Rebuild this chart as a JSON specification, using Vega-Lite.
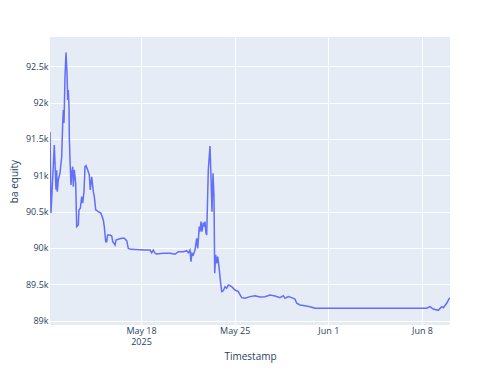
{
  "$schema": "https://vega.github.io/schema/vega-lite/v6.json",
  "width": 400,
  "height": 288,
  "autosize": {"type": "none"},
  "padding": {"left": 50, "top": 37, "right": 50, "bottom": 50},
  "background": "white",
  "view": {"fill": "#E5ECF6", "stroke": null},
  "config": {
    "font": "Open Sans",
    "axis": {
      "domain": false,
      "ticks": false,
      "gridColor": "white",
      "gridWidth": 1,
      "labelFont": "Open Sans",
      "labelFontSize": 9,
      "labelColor": "#2a3f5f",
      "titleFont": "Open Sans",
      "titleFontSize": 10,
      "titleFontWeight": "normal",
      "titleColor": "#2a3f5f"
    }
  },
  "data": {
    "values": [
      {"t": "2025-05-11T04:47:00", "v": 91599},
      {"t": "2025-05-11T06:35:00", "v": 90481},
      {"t": "2025-05-11T12:30:00", "v": 91416},
      {"t": "2025-05-11T15:33:00", "v": 90800},
      {"t": "2025-05-11T16:48:00", "v": 91070},
      {"t": "2025-05-11T17:53:00", "v": 90774},
      {"t": "2025-05-11T19:40:00", "v": 90935},
      {"t": "2025-05-11T22:43:00", "v": 91030},
      {"t": "2025-05-12T01:46:00", "v": 91255},
      {"t": "2025-05-12T03:34:00", "v": 91714},
      {"t": "2025-05-12T04:38:00", "v": 91897},
      {"t": "2025-05-12T05:54:00", "v": 91720},
      {"t": "2025-05-12T07:41:00", "v": 92355},
      {"t": "2025-05-12T09:29:00", "v": 92686},
      {"t": "2025-05-12T11:17:00", "v": 92406},
      {"t": "2025-05-12T12:32:00", "v": 92035},
      {"t": "2025-05-12T13:37:00", "v": 92172},
      {"t": "2025-05-12T14:52:00", "v": 91943},
      {"t": "2025-05-12T15:24:00", "v": 91530},
      {"t": "2025-05-12T16:40:00", "v": 91210},
      {"t": "2025-05-12T18:27:00", "v": 90866},
      {"t": "2025-05-12T19:43:00", "v": 91027},
      {"t": "2025-05-12T21:30:00", "v": 91118},
      {"t": "2025-05-12T22:35:00", "v": 90843},
      {"t": "2025-05-13T00:22:00", "v": 91073},
      {"t": "2025-05-13T02:53:00", "v": 90890},
      {"t": "2025-05-13T04:41:00", "v": 90293},
      {"t": "2025-05-13T07:33:00", "v": 90316},
      {"t": "2025-05-13T08:48:00", "v": 90523},
      {"t": "2025-05-13T11:08:00", "v": 90546},
      {"t": "2025-05-13T13:39:00", "v": 90706},
      {"t": "2025-05-13T15:26:00", "v": 90615},
      {"t": "2025-05-13T17:46:00", "v": 90774},
      {"t": "2025-05-13T19:34:00", "v": 91118},
      {"t": "2025-05-13T21:22:00", "v": 91132},
      {"t": "2025-05-14T00:25:00", "v": 91073},
      {"t": "2025-05-14T03:17:00", "v": 91004},
      {"t": "2025-05-14T05:04:00", "v": 90798},
      {"t": "2025-05-14T07:35:00", "v": 90980},
      {"t": "2025-05-14T10:27:00", "v": 90774},
      {"t": "2025-05-14T12:15:00", "v": 90706},
      {"t": "2025-05-14T14:46:00", "v": 90523},
      {"t": "2025-05-14T19:25:00", "v": 90499},
      {"t": "2025-05-15T00:16:00", "v": 90477},
      {"t": "2025-05-15T04:23:00", "v": 90385},
      {"t": "2025-05-15T06:11:00", "v": 90293},
      {"t": "2025-05-15T08:42:00", "v": 90087},
      {"t": "2025-05-15T10:29:00", "v": 90087},
      {"t": "2025-05-15T12:17:00", "v": 90179},
      {"t": "2025-05-15T16:25:00", "v": 90179},
      {"t": "2025-05-15T19:28:00", "v": 90165},
      {"t": "2025-05-15T21:16:00", "v": 90087},
      {"t": "2025-05-15T23:35:00", "v": 90064},
      {"t": "2025-05-16T01:23:00", "v": 90041},
      {"t": "2025-05-16T03:10:00", "v": 90110},
      {"t": "2025-05-16T07:18:00", "v": 90119},
      {"t": "2025-05-16T13:24:00", "v": 90133},
      {"t": "2025-05-16T18:04:00", "v": 90133},
      {"t": "2025-05-16T22:22:00", "v": 90101},
      {"t": "2025-05-17T01:14:00", "v": 89995},
      {"t": "2025-05-17T06:04:00", "v": 89981},
      {"t": "2025-05-18T07:11:00", "v": 89972},
      {"t": "2025-05-18T16:10:00", "v": 89972},
      {"t": "2025-05-18T19:13:00", "v": 89935},
      {"t": "2025-05-18T22:05:00", "v": 89972},
      {"t": "2025-05-19T01:07:00", "v": 89927},
      {"t": "2025-05-19T04:10:00", "v": 89917},
      {"t": "2025-05-19T16:01:00", "v": 89927},
      {"t": "2025-05-20T04:02:00", "v": 89927},
      {"t": "2025-05-20T13:00:00", "v": 89913},
      {"t": "2025-05-20T18:55:00", "v": 89949},
      {"t": "2025-05-21T03:53:00", "v": 89949},
      {"t": "2025-05-21T09:59:00", "v": 89963},
      {"t": "2025-05-21T12:51:00", "v": 89936},
      {"t": "2025-05-21T15:54:00", "v": 89972},
      {"t": "2025-05-21T17:42:00", "v": 89812},
      {"t": "2025-05-21T19:29:00", "v": 89927},
      {"t": "2025-05-21T21:49:00", "v": 89904},
      {"t": "2025-05-22T00:52:00", "v": 89972},
      {"t": "2025-05-22T03:55:00", "v": 90133},
      {"t": "2025-05-22T05:43:00", "v": 89995},
      {"t": "2025-05-22T08:35:00", "v": 90293},
      {"t": "2025-05-22T09:50:00", "v": 90224},
      {"t": "2025-05-22T11:38:00", "v": 90362},
      {"t": "2025-05-22T13:26:00", "v": 90224},
      {"t": "2025-05-22T15:46:00", "v": 90348},
      {"t": "2025-05-22T17:33:00", "v": 90293},
      {"t": "2025-05-22T18:49:00", "v": 90362},
      {"t": "2025-05-22T20:36:00", "v": 90202},
      {"t": "2025-05-22T21:52:00", "v": 90179},
      {"t": "2025-05-23T00:44:00", "v": 91073},
      {"t": "2025-05-23T03:47:00", "v": 91403},
      {"t": "2025-05-23T05:34:00", "v": 90980},
      {"t": "2025-05-23T07:22:00", "v": 90499},
      {"t": "2025-05-23T09:10:00", "v": 91027},
      {"t": "2025-05-23T10:57:00", "v": 90706},
      {"t": "2025-05-23T12:13:00", "v": 89652},
      {"t": "2025-05-23T14:00:00", "v": 89904},
      {"t": "2025-05-23T15:48:00", "v": 89789},
      {"t": "2025-05-23T17:35:00", "v": 89881},
      {"t": "2025-05-23T19:55:00", "v": 89743},
      {"t": "2025-05-23T22:58:00", "v": 89514},
      {"t": "2025-05-24T00:46:00", "v": 89400},
      {"t": "2025-05-24T03:38:00", "v": 89413},
      {"t": "2025-05-24T06:41:00", "v": 89468},
      {"t": "2025-05-24T09:44:00", "v": 89446},
      {"t": "2025-05-24T12:37:00", "v": 89491},
      {"t": "2025-05-24T18:42:00", "v": 89468},
      {"t": "2025-05-25T00:37:00", "v": 89422},
      {"t": "2025-05-25T06:32:00", "v": 89399},
      {"t": "2025-05-25T12:38:00", "v": 89317},
      {"t": "2025-05-25T18:34:00", "v": 89308},
      {"t": "2025-05-26T03:32:00", "v": 89331},
      {"t": "2025-05-26T12:29:00", "v": 89344},
      {"t": "2025-05-26T21:28:00", "v": 89326},
      {"t": "2025-05-27T06:26:00", "v": 89331},
      {"t": "2025-05-27T15:24:00", "v": 89354},
      {"t": "2025-05-28T00:22:00", "v": 89340},
      {"t": "2025-05-28T09:20:00", "v": 89317},
      {"t": "2025-05-28T15:15:00", "v": 89344},
      {"t": "2025-05-28T18:18:00", "v": 89308},
      {"t": "2025-05-29T00:13:00", "v": 89331},
      {"t": "2025-05-29T06:19:00", "v": 89317},
      {"t": "2025-05-29T12:14:00", "v": 89299},
      {"t": "2025-05-29T15:17:00", "v": 89240},
      {"t": "2025-05-29T21:13:00", "v": 89216},
      {"t": "2025-05-30T06:10:00", "v": 89207},
      {"t": "2025-05-30T15:08:00", "v": 89193},
      {"t": "2025-05-31T00:07:00", "v": 89171},
      {"t": "2025-06-08T08:28:00", "v": 89171},
      {"t": "2025-06-08T14:23:00", "v": 89193},
      {"t": "2025-06-08T20:19:00", "v": 89161},
      {"t": "2025-06-09T05:17:00", "v": 89143},
      {"t": "2025-06-09T11:23:00", "v": 89193},
      {"t": "2025-06-09T14:15:00", "v": 89179},
      {"t": "2025-06-09T20:21:00", "v": 89240},
      {"t": "2025-06-10T01:01:00", "v": 89308},
      {"t": "2025-06-10T02:18:00", "v": 89310}
    ]
  },
  "mark": {"type": "line", "color": "#636EFA", "strokeWidth": 1.5, "clip": true},
  "encoding": {
    "x": {
      "field": "t",
      "type": "temporal",
      "title": "Timestamp",
      "scale": {
        "domain": [
          {"year": 2025, "month": 5, "date": 11, "hours": 4, "minutes": 47},
          {"year": 2025, "month": 6, "date": 10, "hours": 2, "minutes": 18}
        ]
      },
      "axis": {
        "values": [
          {"year": 2025, "month": 5, "date": 18},
          {"year": 2025, "month": 5, "date": 25},
          {"year": 2025, "month": 6, "date": 1},
          {"year": 2025, "month": 6, "date": 8}
        ],
        "labelExpr": "(month(datum.value) == 4 && date(datum.value) == 18) ? [timeFormat(datum.value, '%b %-d'), '2025'] : timeFormat(datum.value, '%b %-d')",
        "labelPadding": 1,
        "labelLineHeight": 11,
        "labelFlush": false,
        "labelOverlap": false,
        "titleY": 31,
        "titleBaseline": "middle"
      }
    },
    "y": {
      "field": "v",
      "type": "quantitative",
      "title": "ba equity",
      "scale": {"domain": [88941, 92901], "nice": false, "zero": false},
      "axis": {
        "values": [89000, 89500, 90000, 90500, 91000, 91500, 92000, 92500],
        "format": "~s",
        "labelPadding": 2,
        "titleX": -36,
        "titleY": 144,
        "titleBaseline": "middle",
        "titleAngle": -90
      }
    }
  }
}
